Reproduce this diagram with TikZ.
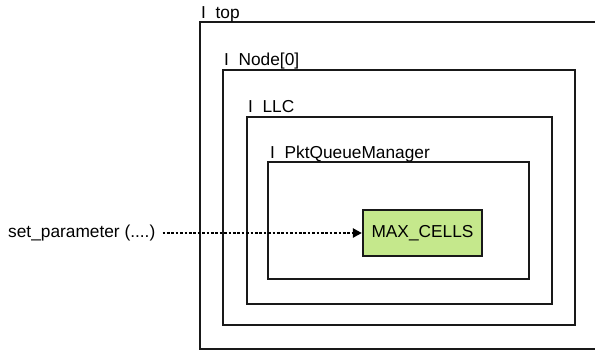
\documentclass[tikz,border=0pt]{standalone}
\usepackage{fontspec}
\setmainfont{Liberation Sans}
\usetikzlibrary{arrows.meta}
\definecolor{cellgreen}{RGB}{197,232,140}

\begin{document}
\begin{tikzpicture}[
  x=1pt, y=-1pt,
  >={Triangle[length=9pt, width=9pt]},
  frame/.style={draw=black!90, line width=2.2pt, fill=none},
  framelbl/.style={font=\fontsize{17.3}{20}\selectfont, inner sep=0pt, anchor=base west},
  param/.style={fill=cellgreen, draw=black!90, line width=2.2pt,
                font=\fontsize{17.3}{20}\selectfont, inner sep=0pt},
  call/.style={->, line width=2.8pt, dash pattern=on 2.6pt off 1.8pt},
]
\useasboundingbox (0,0) rectangle (595,351);
\clip (0,0) rectangle (595,351);

% ── Nested module frames (left, top, right, bottom in px) ───────────────────
\draw[frame] (200,22) rectangle (610,349);
\draw[frame] (223,70) rectangle (575,325);
\draw[frame] (247,117) rectangle (552,304);
\draw[frame] (268,162) rectangle (529,279);

% ── Frame labels ──────────────────────────────────────────────────────────────
\node[framelbl] (ltop)  at (201,18)  {I\ \ top};
\node[framelbl] (lnode) at (224,65)  {I\ \ Node[0]};
\node[framelbl] (lllc)  at (248,112) {I\ \ LLC};
\node[framelbl] (lpkt)  at (270,158) {I\ \ PktQueueManager};

% ── Parameter box ─────────────────────────────────────────────────────────────
\node[param, minimum width=119pt, minimum height=46pt] (cells) at (422.5,233)
  {MAX\_CELLS};

% ── Caller and call ───────────────────────────────────────────────────────────
\node[font=\fontsize{17.3}{20}\selectfont, inner sep=0pt, anchor=west] (setpar)
  at (8,233) {set\_parameter (....)};
\draw[call, shorten <=7pt] (setpar.east) -- (cells.west);

\end{tikzpicture}
\end{document}
